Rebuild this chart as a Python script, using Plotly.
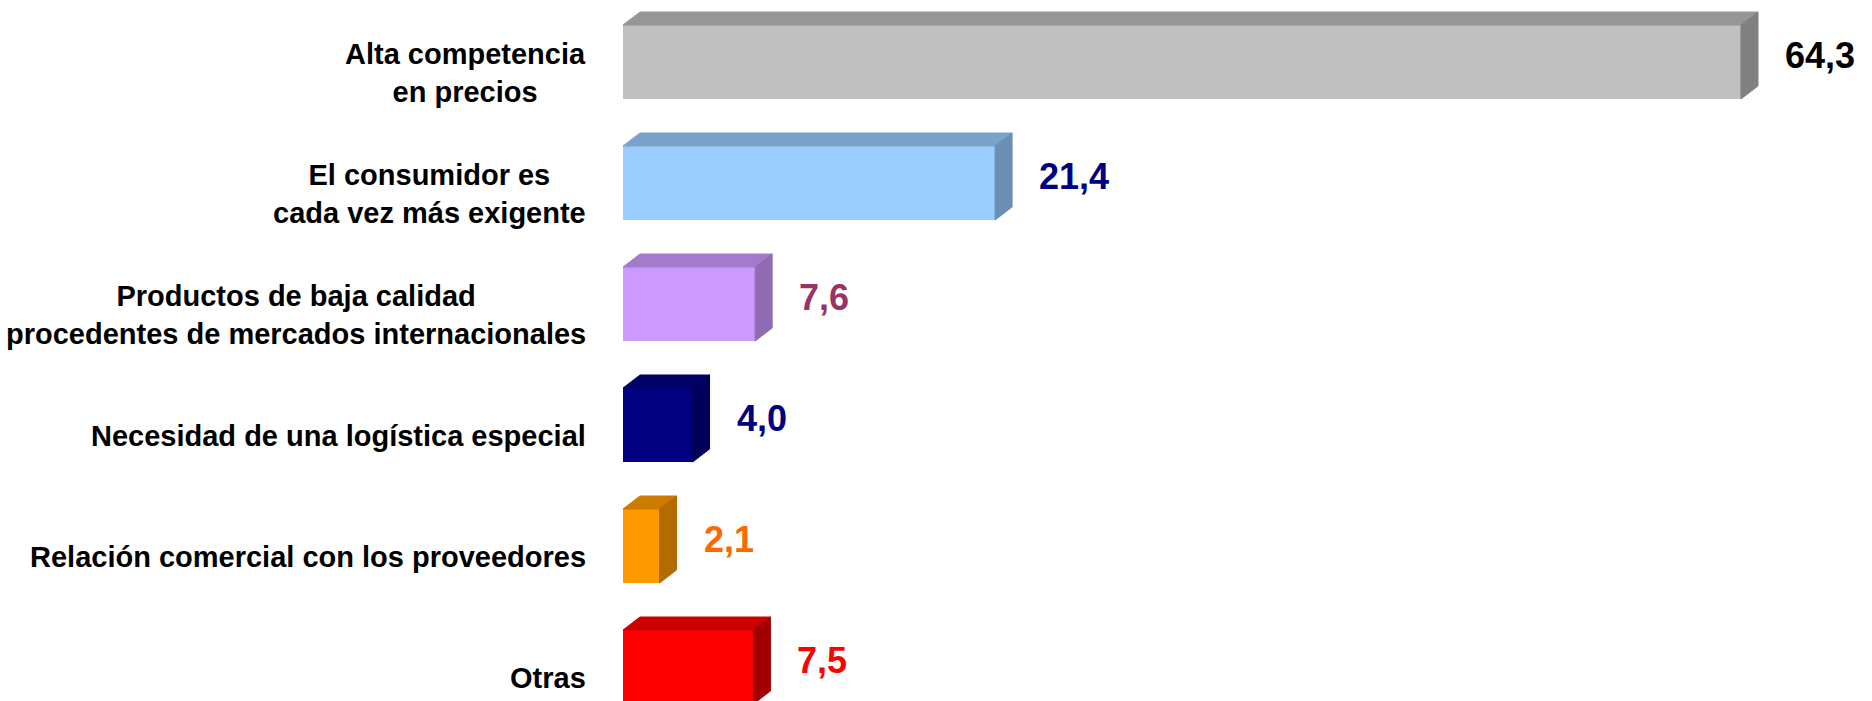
import plotly.graph_objects as go

categories = [
    "Alta competencia<br>en precios",
    "El consumidor es<br>cada vez más exigente",
    "Productos de baja calidad<br>procedentes de mercados internacionales",
    "Necesidad de una logística especial",
    "Relación comercial con los proveedores",
    "Otras",
]
values = [64.3, 21.4, 7.6, 4.0, 2.1, 7.5]
value_labels = ["64,3", "21,4", "7,6", "4,0", "2,1", "7,5"]

front_colors = ["#C0C0C0", "#99CCFF", "#CC99FF", "#000080", "#FF9900", "#FF0000"]
top_colors = ["#969696", "#7AA3CC", "#A37ACC", "#000066", "#CC7A00", "#CC0000"]
side_colors = ["#808080", "#6B8FB3", "#8F6BB3", "#00005A", "#B36B00", "#A00000"]
label_colors = ["#000000", "#000080", "#993366", "#000080", "#FF6600", "#FF0000"]

# layout geometry
W, H = 1872, 701
ML, MR, MT, MB = 623, 0, 0, 0
plot_w = W - ML - MR
plot_h = H - MT - MB
px_per_x = 17.387
px_per_y = 121.0
x_max = plot_w / px_per_x
y_top = -62.0 / px_per_y
y_bot = y_top + plot_h / px_per_y

bar_w = 74.0 / px_per_y
dx = 17.0 / px_per_x
dy = 13.0 / px_per_y

ypos = list(range(len(values)))

fig = go.Figure()

for i, (v, y) in enumerate(zip(values, ypos)):
    yt = y - bar_w / 2
    yb = y + bar_w / 2
    # top face
    fig.add_trace(go.Scatter(
        x=[0, v, v + dx, dx, 0], y=[yt, yt, yt - dy, yt - dy, yt],
        fill="toself", fillcolor=top_colors[i], mode="lines",
        line=dict(color=top_colors[i], width=1), hoverinfo="skip", showlegend=False))
    # side face
    fig.add_trace(go.Scatter(
        x=[v, v + dx, v + dx, v, v], y=[yt, yt - dy, yb - dy, yb, yt],
        fill="toself", fillcolor=side_colors[i], mode="lines",
        line=dict(color=side_colors[i], width=1), hoverinfo="skip", showlegend=False))

fig.add_trace(go.Bar(
    x=values, y=ypos, orientation="h", width=bar_w,
    marker=dict(color=front_colors, line=dict(width=0)),
    hoverinfo="x", showlegend=False))

for i, (v, y) in enumerate(zip(values, ypos)):
    fig.add_annotation(
        x=v, y=y, xref="x", yref="y", text="<b>%s</b>" % value_labels[i],
        showarrow=False, xanchor="left", yanchor="middle", xshift=42, yshift=7,
        font=dict(family="Liberation Sans, Arial, sans-serif", size=36, color=label_colors[i]))
    fig.add_annotation(
        x=0, y=y, xref="paper", yref="y", text="<b>%s</b>" % categories[i],
        showarrow=False, xanchor="right", yanchor="middle", align="center",
        xshift=-35, yshift=-11,
        font=dict(family="Liberation Sans, Arial, sans-serif", size=29, color="#000000"))

fig.update_layout(
    width=W, height=H,
    margin=dict(l=ML, r=MR, t=MT, b=MB),
    paper_bgcolor="white", plot_bgcolor="white",
    xaxis=dict(range=[0, x_max], visible=False, fixedrange=True),
    yaxis=dict(range=[y_bot, y_top], visible=False, fixedrange=True),
    bargap=0,
)

fig.write_html("out.html", config={"displayModeBar": False},
               post_script="document.body.style.margin='0';document.body.style.overflow='hidden';")
